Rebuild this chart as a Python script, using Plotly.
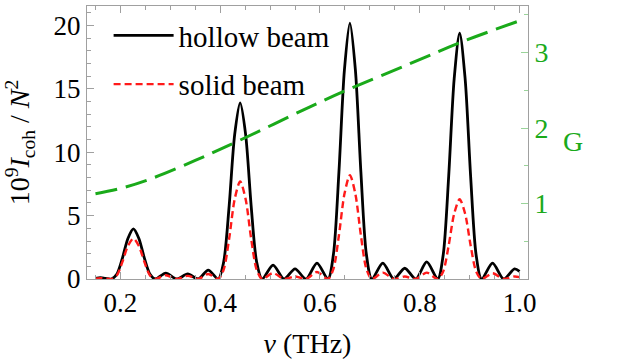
import plotly.graph_objects as go

# frequency grid (THz)
nu = [0.150, 0.160, 0.170, 0.182,
      0.193, 0.204, 0.215, 0.226, 0.237, 0.248, 0.259, 0.270,
      0.291, 0.313, 0.335, 0.356, 0.376, 0.396,
      0.407, 0.418, 0.429, 0.440, 0.451, 0.462, 0.473, 0.484,
      0.506, 0.528, 0.550, 0.572, 0.594, 0.616,
      0.627, 0.638, 0.649, 0.660, 0.671, 0.682, 0.693, 0.704,
      0.726, 0.748, 0.770, 0.792, 0.814, 0.836,
      0.847, 0.858, 0.869, 0.880, 0.891, 0.902, 0.913, 0.924,
      0.946, 0.968, 0.990, 1.000]

hollow = [0.05, 0.1, 0.05, 0,
          0.4, 1.65, 3.2, 3.95, 3.2, 1.65, 0.4, 0,
          0.47, 0, 0.4, 0, 0.7, 0,
          1.35, 5.8, 11.4, 13.9, 11.4, 5.8, 1.35, 0,
          1.1, 0, 0.8, 0, 1.26, 0,
          1.95, 8.45, 16.5, 20.2, 16.5, 8.45, 1.95, 0,
          1.25, 0, 0.85, 0, 1.35, 0,
          1.9, 8.1, 15.8, 19.4, 15.8, 8.1, 1.9, 0,
          1.25, 0, 0.8, 0.6]

solid = [0.03, 0.07, 0.03, 0,
         0.3, 1.35, 2.6, 3.2, 2.6, 1.35, 0.3, 0,
         0.3, 0, 0.25, 0, 0.4, 0,
         0.75, 3.2, 6.3, 7.7, 6.3, 3.2, 0.75, 0,
         0.47, 0, 0.2, 0, 0.55, 0,
         0.8, 3.45, 6.7, 8.2, 6.7, 3.45, 0.8, 0,
         0.5, 0, 0.2, 0, 0.5, 0,
         0.6, 2.65, 5.15, 6.3, 5.15, 2.65, 0.6, 0,
         0.45, 0, 0.2, 0.15]

nu_g = [0.15, 0.2, 0.254, 0.35, 0.44, 0.58, 0.66, 0.78, 0.88, 1.0]
G = [1.13, 1.2, 1.31, 1.57, 1.84, 2.28, 2.52, 2.85, 3.13, 3.42]

x_ticks = [0.2, 0.4, 0.6, 0.8, 1.0]
x_ticktext = ["0.2", "0.4", "0.6", "0.8", "1.0"]
y_ticks = [0, 5, 10, 15, 20]
g_ticks = [1, 2, 3]

FONT = "Liberation Serif, Times New Roman, Times, serif"
GREY = "#a0a0a0"
GREEN = "#1aaa1a"

fig = go.Figure()
fig.add_trace(go.Scatter(x=nu, y=hollow, mode="lines", name="hollow beam",
                         line=dict(color="black", width=2.8, shape="spline", smoothing=0.8),
                         legendgroup="a"))
fig.add_trace(go.Scatter(x=nu, y=solid, mode="lines", name="solid beam",
                         line=dict(color="#ff1a1a", width=2.4, dash="7px,4px", shape="spline", smoothing=0.8),
                         legendgroup="b"))
fig.add_trace(go.Scatter(x=nu_g, y=G, mode="lines", name="G", yaxis="y2",
                         line=dict(color=GREEN, width=3, dash="22px,9px", shape="spline"),
                         showlegend=False))

fig.update_layout(
    width=619, height=361,
    margin=dict(l=87, r=91, t=6, b=82, autoexpand=False),
    paper_bgcolor="white", plot_bgcolor="white",
    font=dict(family=FONT, size=26, color="black"),
    showlegend=True,
    legend=dict(x=0.049, y=0.985, xanchor="left", yanchor="top",
                bgcolor="rgba(0,0,0,0)", font=dict(size=29, family=FONT),
                tracegroupgap=8, itemwidth=60),
    xaxis=dict(range=[0.133, 1.017], tickvals=x_ticks, ticktext=x_ticktext,
               ticks="inside", ticklen=7, tickcolor=GREY, tickwidth=1,
               showline=True, linecolor=GREY, linewidth=1, mirror="ticks",
               showgrid=False, zeroline=False, automargin=False,
               minor=dict(dtick=0.05, ticks="inside", ticklen=4, tickcolor=GREY, showgrid=False),
               tickfont=dict(family=FONT, size=27),
               title=dict(text="<i>ν</i> (THz)", font=dict(family=FONT, size=28))),
    yaxis=dict(range=[0, 21.55], tickvals=y_ticks,
               ticks="inside", ticklen=7, tickcolor=GREY, tickwidth=1,
               showline=True, linecolor=GREY, linewidth=1,
               showgrid=False, zeroline=False, automargin=False,
               minor=dict(dtick=1, ticks="inside", ticklen=4, tickcolor=GREY, showgrid=False),
               tickfont=dict(family=FONT, size=27),
               title=dict(text="10<sup>9</sup><i>I</i><sub>coh</sub> / <i>N</i><sup>2</sup>",
                          font=dict(family=FONT, size=28))),
    yaxis2=dict(overlaying="y", side="right", range=[0, 3.616], tickvals=g_ticks,
                ticks="inside", ticklen=7, tickcolor="#9ad49a", tickwidth=1,
                showline=True, linecolor=GREY, linewidth=1,
                showgrid=False, zeroline=False, automargin=False,
                minor=dict(dtick=0.5, ticks="inside", ticklen=4, tickcolor="#9ad49a", showgrid=False),
                tickfont=dict(family=FONT, size=28, color=GREEN)),
    annotations=[dict(text="G", xref="paper", yref="paper", x=1.0, xshift=45, y=0.5, yshift=1,
                      xanchor="center", yanchor="middle", showarrow=False,
                      font=dict(family=FONT, size=28, color=GREEN))],
)

fig.write_html("out.html", config={"displayModeBar": False},
               post_script="document.body.style.margin='0px';")
